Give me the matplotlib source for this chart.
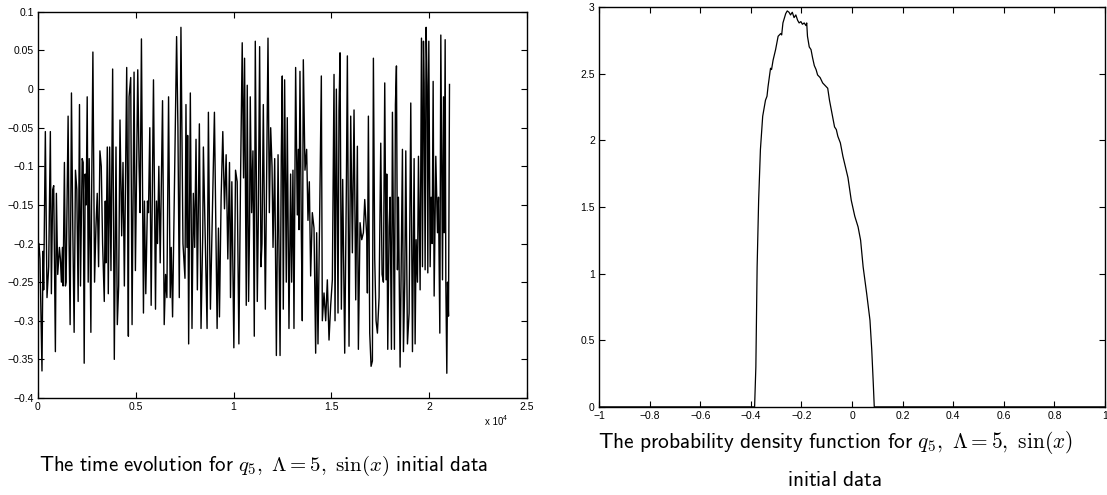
import matplotlib
matplotlib.use("Agg")
import matplotlib.pyplot as plt
from matplotlib.ticker import FuncFormatter

plt.rcParams["mathtext.fontset"] = "cm"
plt.rcParams["font.family"] = ["Liberation Sans", "DejaVu Sans"]

# time series of q_5 (time, value)
t_vals = [
    0, 51, 103, 205, 257, 291, 377, 462, 548, 633, 685, 753, 805, 890, 942, 1010,
    1096, 1147, 1198, 1250, 1284, 1352, 1404, 1438, 1541, 1592, 1644, 1712, 1780,
    1849, 1917, 1986, 2054, 2123, 2174, 2260, 2311, 2363, 2414, 2465, 2517, 2568,
    2619, 2705, 2739, 2808, 2893, 2962, 3030, 3099, 3167, 3236, 3304, 3390, 3441,
    3475, 3510, 3544, 3595, 3664, 3732, 3818, 3903, 3989, 4057, 4126, 4194, 4280,
    4348, 4417, 4537, 4588, 4622, 4657, 4742, 4811, 4913, 4982, 5102, 5170, 5222,
    5290, 5393, 5444, 5513, 5598, 5650, 5718, 5787, 5838, 5906, 6009, 6060, 6112,
    6180, 6249, 6369, 6454, 6523, 6591, 6677, 6762, 6814, 6882, 7088, 7156, 7225,
    7310, 7413, 7516, 7567, 7618, 7653, 7704, 7790, 7875, 7944, 8012, 8081, 8149,
    8252, 8337, 8423, 8457, 8646, 8714, 8765, 8817, 9022, 9159, 9228, 9279, 9365,
    9450, 9536, 9621, 9707, 9793, 9844, 9913, 10015, 10101, 10186, 10272, 10358,
    10443, 10512, 10563, 10649, 10700, 10768, 10820, 10854, 10923, 10991, 11060,
    11111, 11214, 11265, 11333, 11402, 11453, 11522, 11624, 11761, 11830, 11898,
    11967, 12018, 12104, 12189, 12275, 12378,
    12440, 12491, 12543, 12611, 12696, 12747, 12833, 12918, 12969, 13037, 13089,
    13174, 13259, 13311, 13345, 13396, 13464, 13515, 13567, 13652, 13737, 13805,
    13874, 13942, 14027, 14113, 14198, 14249, 14317, 14403, 14488, 14539, 14625,
    14710, 14795, 14881, 14966, 15051, 15137, 15188, 15256, 15341, 15392, 15444,
    15512, 15580, 15683, 15768, 15819, 15904, 15990, 16075, 16160, 16246, 16331,
    16382, 16468, 16553, 16638, 16707, 16809, 16843, 16894, 16962, 17031, 17099,
    17150, 17218, 17287, 17355, 17440, 17526, 17594, 17662, 17730, 17799, 17833,
    17884, 17952, 18003, 18072, 18123, 18174, 18225, 18276, 18328, 18379, 18430,
    18515, 18584, 18635, 18686, 18754, 18806, 18891, 18976, 19061, 19147, 19232,
    19283, 19334, 19403, 19454, 19539, 19608, 19659, 19710, 19744, 19795, 19846,
    19898, 19932, 19983, 20051, 20102, 20154, 20205, 20256, 20341, 20427, 20478,
    20546, 20597, 20683, 20734, 20768, 20819, 20853, 20904, 20939, 20990, 21041,
]
q5_vals = [
    -0.21, -0.20, -0.22, -0.365, -0.21, -0.26, -0.055, -0.27, -0.23, -0.055, -0.265,
    -0.13, -0.125, -0.34, -0.135, -0.24, -0.205, -0.22, -0.25, -0.205, -0.255,
    -0.095, -0.255, -0.25, -0.035, -0.20, -0.305, -0.005, -0.18, -0.315, -0.105,
    -0.13, -0.275, -0.02, -0.255, -0.09, -0.095, -0.355, -0.11, -0.15, -0.01, -0.25,
    -0.09, -0.315, -0.15, 0.048, -0.25, -0.18, -0.135, -0.23, -0.08, -0.10, -0.20,
    -0.275, -0.145, -0.225, -0.15, -0.075, -0.265, -0.075, -0.235, 0.026, -0.35,
    -0.075, -0.305, -0.255, -0.04, -0.19, -0.095, -0.255, 0.028, -0.165, -0.32,
    -0.01, 0.015, -0.305, 0.022, -0.235, 0.025, -0.10, -0.16, 0.065, -0.29, -0.145,
    -0.265, -0.145, -0.16, -0.05, -0.28, -0.16, 0.012, -0.285, -0.145, -0.20, -0.10,
    -0.225, -0.015, -0.305, -0.24, -0.27, -0.01, -0.27, -0.205, -0.295, 0.068, -0.05,
    -0.27, 0.08, -0.20, -0.245, -0.02, -0.205, -0.06, -0.33, -0.005, -0.31, -0.135,
    -0.205, -0.065, -0.26, -0.045, -0.31, -0.19, -0.075, -0.31, -0.03, -0.17, -0.285,
    -0.03, -0.31, -0.18, -0.295, -0.14, -0.055, -0.155, -0.085, -0.22, -0.095, -0.27,
    -0.12, -0.335, -0.105, -0.12, -0.33, -0.115, 0.06, -0.115, 0.04, -0.28, 0.005,
    -0.275, -0.175, -0.01, -0.16, -0.08, -0.32, 0.062, -0.275, -0.17, 0.055, -0.23,
    -0.20, -0.02, -0.285, 0.066, -0.16, -0.05, -0.10, -0.205, -0.09, -0.345, -0.085,
    -0.345,
    -0.087, 0.017, -0.285, 0.012, -0.25, -0.037, -0.31, -0.11, -0.25, -0.105, -0.31,
    0.028, -0.163, -0.078, -0.182, 0.023, -0.182, -0.30, 0.038, -0.105, -0.078,
    -0.17, -0.12, -0.242, -0.16, -0.18, -0.342, -0.186, -0.33, -0.163, 0.017, -0.30,
    -0.264, -0.30, -0.247, -0.325, -0.28, -0.247, 0.019, -0.30, 0.0, -0.29, -0.027,
    0.047, -0.285, -0.117, -0.342, -0.126, 0.043, -0.333, -0.035, -0.212, -0.027,
    -0.273, -0.074, -0.337, -0.173, -0.195, -0.186, -0.143, -0.19, -0.264, -0.035,
    -0.316, -0.359, -0.352, 0.04, -0.22, -0.30, -0.316, -0.27, -0.07, -0.24, -0.25,
    0.008, -0.247, -0.11, -0.337, -0.178, -0.14, -0.337, -0.03, -0.186, -0.337,
    -0.02, 0.03, -0.234, -0.14, -0.36, -0.20, -0.078, -0.34, -0.247, -0.08, -0.33,
    -0.29, -0.018, -0.34, -0.09, -0.33, -0.195, -0.25, -0.087, -0.26, 0.066, -0.23,
    0.062, 0.008, -0.234, 0.08, 0.004, -0.238, 0.062, -0.23, -0.14, -0.20, 0.01,
    -0.268, -0.087, -0.186, -0.14, -0.316, 0.07, -0.247, -0.01, -0.186, 0.064,
    -0.25, -0.368, -0.25, -0.294, 0.006,
]

# probability density of q_5
pdf_x = [
    -1.0, -0.385, -0.380, -0.375, -0.369, -0.362, -0.353, -0.342, -0.336, -0.332,
    -0.322, -0.318, -0.312, -0.302, -0.296, -0.292, -0.282, -0.278, -0.273, -0.262,
    -0.256, -0.249, -0.243, -0.236, -0.229, -0.222, -0.215, -0.209, -0.202, -0.196,
    -0.189, -0.182, -0.179, -0.176, -0.169, -0.162, -0.156, -0.149, -0.142, -0.136,
    -0.126, -0.116, -0.106, -0.096, -0.089, -0.082, -0.075, -0.069, -0.062, -0.056,
    -0.050, -0.046, -0.036, -0.026, -0.016, -0.003, 0.011, 0.024, 0.034, 0.044,
    0.058, 0.071, 0.078, 0.084, 0.088, 1.0,
]
pdf_y = [
    0.0, 0.0, 0.30, 1.05, 1.55, 1.93, 2.18, 2.30, 2.33, 2.40,
    2.54, 2.53, 2.60, 2.68, 2.74, 2.78, 2.80, 2.79, 2.88, 2.95,
    2.97, 2.96, 2.94, 2.96, 2.92, 2.94, 2.90, 2.88, 2.89, 2.87,
    2.88, 2.86, 2.88, 2.78, 2.70, 2.68, 2.62, 2.56, 2.53, 2.49,
    2.47, 2.43, 2.41, 2.39, 2.30, 2.23, 2.16, 2.10, 2.08, 2.03,
    2.00, 1.98, 1.88, 1.80, 1.72, 1.55, 1.43, 1.35, 1.25, 1.05,
    0.85, 0.65, 0.43, 0.18, 0.0, 0.0,
]

cap_left = (r"$\mathsf{The\ time\ evolution\ for\ }q_5,\ \Lambda=5,\ \sin(x)"
            r"\mathsf{\ initial\ data}$")
cap_right_1 = (r"$\mathsf{The\ probability\ density\ function\ for\ }"
               r"q_5,\ \Lambda=5,\ \sin(x)$")
cap_right_2 = r"$\mathsf{initial\ data}$"

fig = plt.figure(figsize=(11.07, 4.95), dpi=100)

# --- left panel: time evolution ---
ax1 = fig.add_axes([0.0343, 0.196, 0.4417, 0.780])
ax1.plot(t_vals, q5_vals, color="black", lw=1.0)
ax1.set_xlim(0, 25000)
ax1.set_ylim(-0.4, 0.1)
ax1.set_xticks([0, 5000, 10000, 15000, 20000, 25000])
ax1.xaxis.set_major_formatter(FuncFormatter(lambda v, p: f"{v / 1e4:g}"))
ax1.set_yticks([-0.4, -0.35, -0.3, -0.25, -0.2, -0.15, -0.1, -0.05, 0, 0.05, 0.1])
ax1.yaxis.set_major_formatter(FuncFormatter(lambda v, p: f"{v:g}".replace("-", "\u2212")))
fig.text(503 / 1107, 1 - 417 / 495, "x 10", ha="right", va="top", fontsize=7)
fig.text(503 / 1107, 1 - 415 / 495, "4", ha="left", va="top", fontsize=5)
fig.text(264 / 1107, 1 - 466 / 495, cap_left, ha="center", va="center", fontsize=15)

# --- right panel: probability density ---
ax2 = fig.add_axes([0.5411, 0.178, 0.4571, 0.808])
ax2.plot(pdf_x, pdf_y, color="black", lw=0.9)
ax2.set_xlim(-1, 1)
ax2.set_ylim(0, 3)
ax2.set_xticks([-1, -0.8, -0.6, -0.4, -0.2, 0, 0.2, 0.4, 0.6, 0.8, 1])
ax2.xaxis.set_major_formatter(FuncFormatter(lambda v, p: f"{v:g}".replace("-", "\u2212")))
ax2.set_yticks([0, 0.5, 1, 1.5, 2, 2.5, 3])
ax2.yaxis.set_major_formatter(FuncFormatter(lambda v, p: f"{v:g}"))
fig.text(835 / 1107, 1 - 443 / 495, cap_right_1, ha="center", va="center", fontsize=15.4)
fig.text(835 / 1107, 1 - 480 / 495, cap_right_2, ha="center", va="center", fontsize=15.4)

for ax in (ax1, ax2):
    ax.tick_params(direction="in", top=True, right=True, length=4, width=0.8,
                   labelsize=7.5, pad=3)
    for s in ax.spines.values():
        s.set_linewidth(1.0)

fig.savefig("out.png", dpi=100)
